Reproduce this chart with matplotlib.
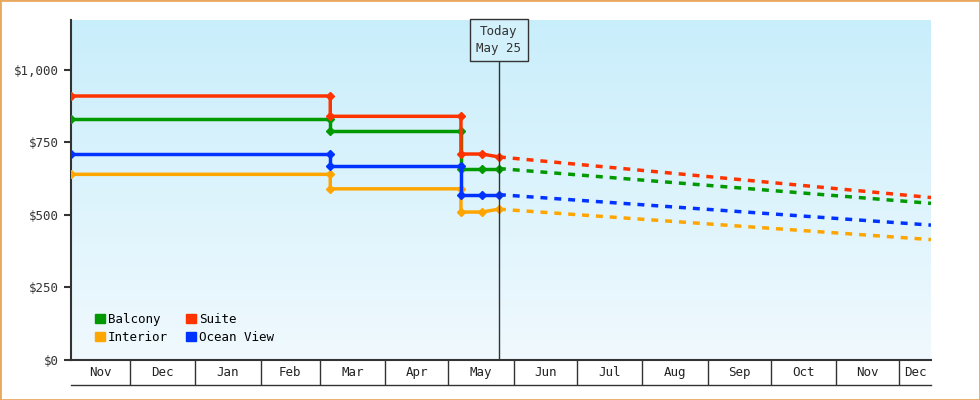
import matplotlib.pyplot as plt
import matplotlib.dates as mdates
import numpy as np
from datetime import datetime as dt

plt.rcParams['font.family'] = ['DejaVu Sans Mono']

# change dates (duplicated where price steps)
dates = [dt(2024, 11, 3), dt(2025, 3, 6), dt(2025, 3, 6), dt(2025, 5, 7),
         dt(2025, 5, 7), dt(2025, 5, 17), dt(2025, 5, 25)]
suite = [910, 910, 840, 840, 710, 710, 700]
balcony = [830, 830, 790, 790, 660, 660, 660]
ocean = [710, 710, 670, 670, 570, 570, 570]
interior = [640, 640, 590, 590, 510, 510, 520]

fc_dates = [dt(2025, 5, 25), dt(2025, 12, 16)]
suite_fc = [700, 560]
balcony_fc = [660, 540]
ocean_fc = [570, 465]
interior_fc = [520, 415]

today = dt(2025, 5, 25)
x0, x1 = dt(2024, 11, 3), dt(2025, 12, 16)
months = ['Nov', 'Dec', 'Jan', 'Feb', 'Mar', 'Apr', 'May', 'Jun',
          'Jul', 'Aug', 'Sep', 'Oct', 'Nov', 'Dec']
month_starts = [dt(2024, 11, 1)] + [dt(2024 + (m // 12), m % 12 + 1, 1) for m in range(11, 24)] + [dt(2026, 1, 1)]

fig = plt.figure(figsize=(9.8, 4), dpi=100)
fig.patches.append(plt.Rectangle((0, 0), 1, 1, transform=fig.transFigure,
                                 fill=False, edgecolor='#e8a860', lw=2))
ax = fig.add_axes([71 / 980, 40 / 400, 860 / 980, 340 / 400])
ax.set_xlim(mdates.date2num(x0), mdates.date2num(x1))
ax.set_ylim(0, 1172)

grad = np.linspace(0, 1, 256).reshape(-1, 1)
cmap = plt.matplotlib.colors.LinearSegmentedColormap.from_list('bg', ['#f0f9fe', '#c9eefb'])
ax.imshow(grad, aspect='auto', cmap=cmap, origin='lower',
          extent=[*ax.get_xlim(), 0, 1172], zorder=0)

series = [(balcony, balcony_fc, '#009900', 'Balcony'),
          (interior, interior_fc, '#ffa500', 'Interior'),
          (suite, suite_fc, '#ff3300', 'Suite'),
          (ocean, ocean_fc, '#0033ff', 'Ocean View')]
handles = []
for vals, fc, col, name in series:
    ax.plot(dates, vals, color=col, lw=2.5, marker='D', ms=4, zorder=3)
    ax.plot(fc_dates, fc, color=col, lw=2.5, ls=(0, (2, 2)), zorder=3)
    handles.append(plt.Rectangle((0, 0), 1, 1, color=col, label=name))

ax.axvline(today, color='#333333', lw=1, zorder=4)
ax.text(today, 1103, 'Today\nMay 25', ha='center', va='center', fontsize=9,
        color='#333333', zorder=5, linespacing=1.4,
        bbox=dict(boxstyle='square,pad=0.5', fc='#d3f1fb', ec='#333333', lw=1))

ax.set_yticks([0, 250, 500, 750, 1000])
ax.set_yticklabels(['$0', '$250', '$500', '$750', '$1,000'])
ax.set_xticks([])
ax.tick_params(axis='y', labelsize=9, colors='#333333', length=5, width=1.5)
for s in ['top', 'right']:
    ax.spines[s].set_visible(False)
for s in ['left', 'bottom']:
    ax.spines[s].set_color('#333333')
    ax.spines[s].set_linewidth(1.5)

ax.legend(handles=handles, ncol=2, loc='lower left', frameon=False, fontsize=9,
          handlelength=0.8, handleheight=0.8, handletextpad=0.2, columnspacing=1.5,
          labelspacing=0.4, bbox_to_anchor=(0.015, 0.015))

# month strip
mx = fig.add_axes([71 / 980, 15 / 400, 860 / 980, 25 / 400])
mx.set_xlim(ax.get_xlim())
mx.set_ylim(0, 1)
mx.axis('off')
mx.plot(mx.get_xlim(), [0.02, 0.02], color='#333333', lw=1, clip_on=False)
for i, name in enumerate(months):
    a = max(month_starts[i], x0)
    b = min(month_starts[i + 1], x1)
    if month_starts[i] > x0:
        mx.plot([a, a], [0, 1], color='#333333', lw=1)
    mid = mdates.date2num(a) + (mdates.date2num(b) - mdates.date2num(a)) / 2
    mx.text(mid, 0.5, name, ha='center', va='center', fontsize=9, color='#222222')

fig.savefig('out.png', dpi=100)
